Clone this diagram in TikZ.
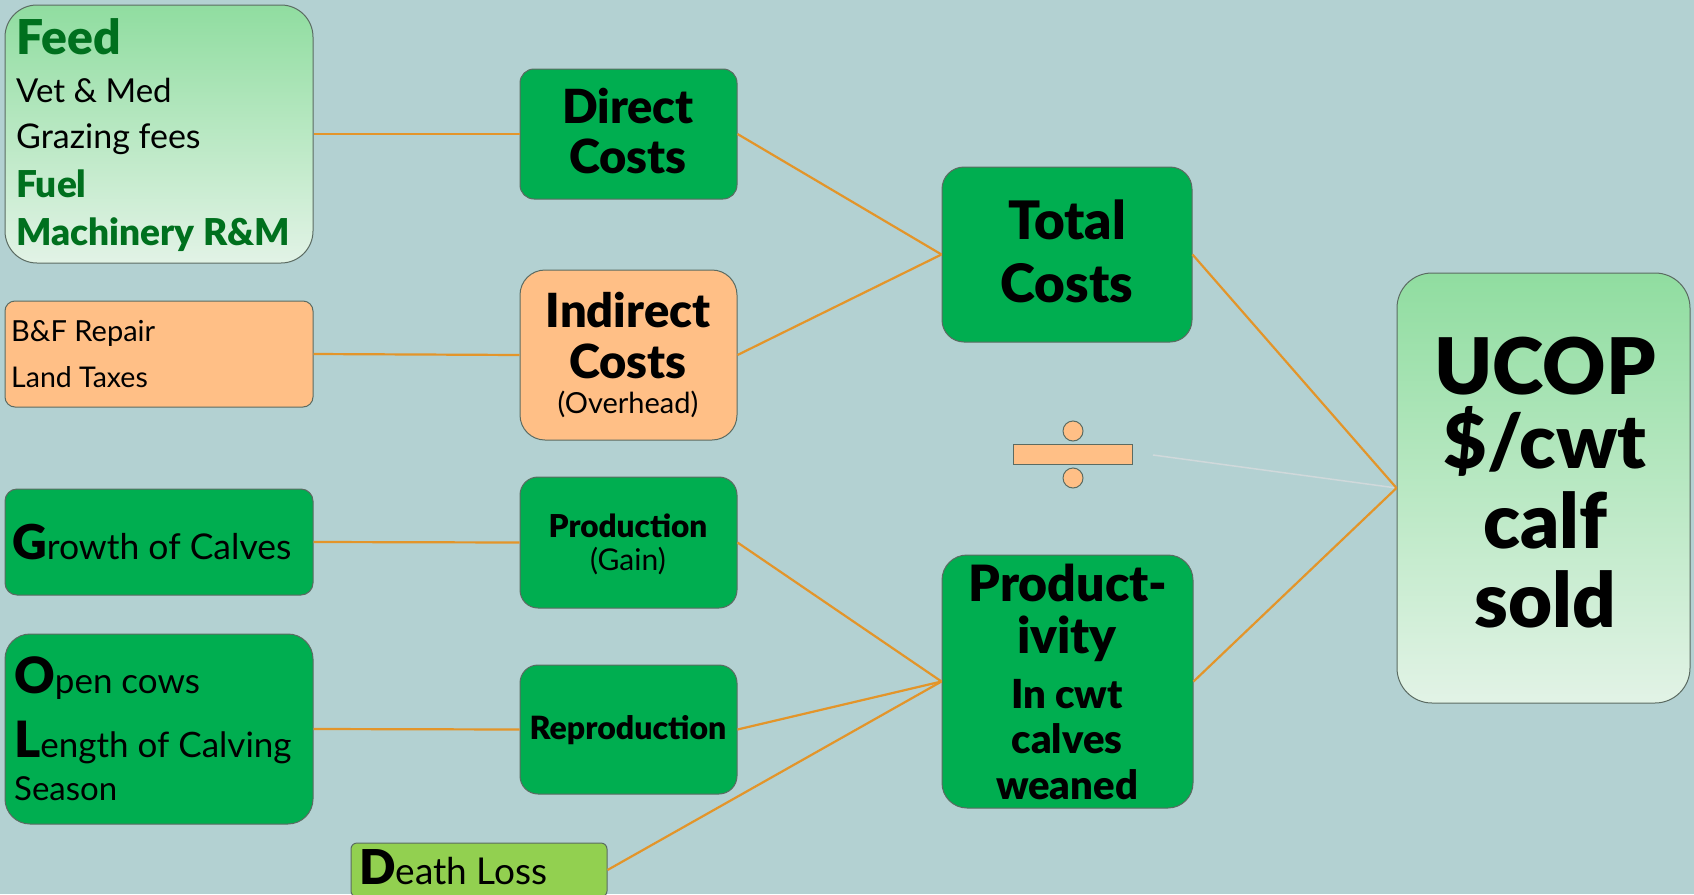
\documentclass[tikz,border=0pt]{standalone}
\usepackage{fontspec}
\setmainfont{Lato}[BoldFont={Lato Black}]
\newcommand{\fsz}[1]{\fontsize{#1}{#1}\selectfont}
\definecolor{bgc}{HTML}{B3D1D2}
\definecolor{boxgreen}{HTML}{00AE50}
\definecolor{boxorange}{HTML}{FFBF86}
\definecolor{lighttop}{HTML}{90DDA0}
\definecolor{lightbot}{HTML}{E2F3E6}
\definecolor{deathgreen}{HTML}{92D050}
\definecolor{darkgreentext}{HTML}{00701E}
\definecolor{edgec}{HTML}{5B6B62}
\definecolor{linkc}{HTML}{E3952A}
\definecolor{greyline}{HTML}{D0D9DB}
\tikzset{
  box/.style={draw=edgec, line width=1pt, rectangle, inner sep=0pt},
  link/.style={draw=linkc, line width=2.2pt},
  txt/.style={inner sep=0pt, anchor=base west},
  ctxt/.style={inner sep=0pt, anchor=base},
}
\begin{document}
\begin{tikzpicture}[x=1pt,y=-1pt]
\fill[bgc] (0,0) rectangle (1694,894);
\useasboundingbox (0,0) rectangle (1694,894);

% boxes
\node[box, rounded corners=32pt, top color=lighttop, bottom color=lightbot, minimum width=308pt, minimum height=258pt] (feed) at (159,134) {};
\node[box, rounded corners=10pt, fill=boxorange, minimum width=308pt, minimum height=106pt] (bf) at (159,354) {};
\node[box, rounded corners=12pt, fill=boxgreen, minimum width=308pt, minimum height=106pt] (growth) at (159,542) {};
\node[box, rounded corners=25pt, fill=boxgreen, minimum width=308pt, minimum height=190pt] (open) at (159,729) {};
\node[box, rounded corners=6pt, fill=deathgreen, minimum width=256pt, minimum height=54pt] (death) at (479,870) {};

\node[box, rounded corners=14pt, fill=boxgreen, minimum width=217pt, minimum height=130pt] (direct) at (628.5,134) {};
\node[box, rounded corners=25pt, fill=boxorange, minimum width=217pt, minimum height=170pt] (indirect) at (628.5,355) {};
\node[box, rounded corners=18pt, fill=boxgreen, minimum width=217pt, minimum height=131pt] (production) at (628.5,542.5) {};
\node[box, rounded corners=18pt, fill=boxgreen, minimum width=217pt, minimum height=129pt] (repro) at (628.5,729.5) {};

\node[box, rounded corners=22pt, fill=boxgreen, minimum width=250pt, minimum height=175pt] (total) at (1067,254.5) {};
\node[box, rounded corners=25pt, fill=boxgreen, minimum width=251pt, minimum height=253pt] (productivity) at (1067.5,681.5) {};
\node[box, rounded corners=35pt, top color=lighttop, bottom color=lightbot, minimum width=293pt, minimum height=430pt] (ucop) at (1543.5,488) {};

% division sign
\node[box, fill=boxorange, minimum width=119pt, minimum height=20pt] (divbar) at (1072.5,454) {};
\node[box, circle, fill=boxorange, minimum size=20pt] (divtop) at (1073,431) {};
\node[box, circle, fill=boxorange, minimum size=20pt] (divbot) at (1073,478) {};
\coordinate (greystart) at (1153,455);
\draw[greyline, line width=1.5pt] (greystart) -- (ucop.west);

% connectors
\draw[link] (feed.east) -- (direct.west);
\draw[link] (bf.east) -- (indirect.west);
\draw[link] (growth.east) -- (production.west);
\draw[link] (open.east) -- (repro.west);
\draw[link] (direct.east) -- (total.west);
\draw[link] (indirect.east) -- (total.west);
\draw[link] (total.east) -- (ucop.west);
\draw[link] (production.east) -- (productivity.west);
\draw[link] (repro.east) -- (productivity.west);
\draw[link] (death.east) -- (productivity.west);
\draw[link] (productivity.east) -- (ucop.west);

% texts: feed box
\node[txt, text=darkgreentext, font=\fsz{48}\bfseries] (tfeed) at (16,54) {Feed};
\node[txt, font=\fsz{33}] (tvet) at (16,102) {Vet \& Med};
\node[txt, font=\fsz{34}] (tgraz) at (16,148) {Grazing fees};
\node[txt, text=darkgreentext, font=\fsz{37}\bfseries] (tfuel) at (16,197) {Fuel};
\node[txt, text=darkgreentext, font=\fsz{37}\bfseries] (tmach) at (16,245) {Machinery R\&M};
% bf box
\node[txt, font=\fsz{29}] (tbf) at (11,341) {B\&F Repair};
\node[txt, font=\fsz{28.5}] (tland) at (11,387) {Land Taxes};
% growth
\node[txt] (tgrowth) at (12,559) {\fsz{48}\bfseries G\fsz{35.5}\mdseries rowth of Calves};
% open cows
\node[txt] (topen) at (14,693) {\fsz{50}\bfseries O\fsz{35}\mdseries pen cows};
\node[txt] (tlength) at (14,757) {\fsz{50}\bfseries L\fsz{35}\mdseries ength of Calving};
\node[txt, font=\fsz{33}] (tseason) at (14,800) {Season};
% death
\node[txt] (tdeath) at (359,884) {\fsz{48}\bfseries D\fsz{37}\mdseries eath Loss};
% direct
\node[ctxt, font=\fsz{47}\bfseries] (tdirect1) at (628,123) {Direct};
\node[ctxt, font=\fsz{47}\bfseries] (tdirect2) at (628,173) {Costs};
% indirect
\node[ctxt, font=\fsz{47}\bfseries] (tind1) at (628,327) {Indirect};
\node[ctxt, font=\fsz{47}\bfseries] (tind2) at (628,378) {Costs};
\node[ctxt, font=\fsz{29}] (tind3) at (628,413) {(Overhead)};
% production
\node[ctxt, font=\fsz{31.5}\bfseries] (tprod1) at (628,537) {Production};
\node[ctxt, font=\fsz{30}] (tprod2) at (628,570) {(Gain)};
% reproduction
\node[ctxt, font=\fsz{32}\bfseries] (trepro) at (628,739) {Reproduction};
% total
\node[ctxt, font=\fsz{53}\bfseries] (ttot1) at (1067,239) {Total};
\node[ctxt, font=\fsz{53}\bfseries] (ttot2) at (1067,302) {Costs};
% productivity
\node[ctxt, font=\fsz{50}\bfseries] (tpy1) at (1068,601) {Product-};
\node[ctxt, font=\fsz{50}\bfseries] (tpy2) at (1067,653) {ivity};
\node[ctxt, font=\fsz{40}\bfseries] (tpy3) at (1067,708) {In cwt};
\node[ctxt, font=\fsz{40}\bfseries] (tpy4) at (1067,753) {calves};
\node[ctxt, font=\fsz{40}\bfseries] (tpy5) at (1067,799) {weaned};
% ucop
\node[ctxt, font=\fsz{78}\bfseries] (tu1) at (1545,394) {UCOP};
\node[ctxt, font=\fsz{75}\bfseries] (tu2) at (1545,468) {\$/cwt};
\node[ctxt, font=\fsz{76}\bfseries] (tu3) at (1545,548) {calf};
\node[ctxt, font=\fsz{76}\bfseries] (tu4) at (1545,627) {sold};
\end{tikzpicture}
\end{document}
